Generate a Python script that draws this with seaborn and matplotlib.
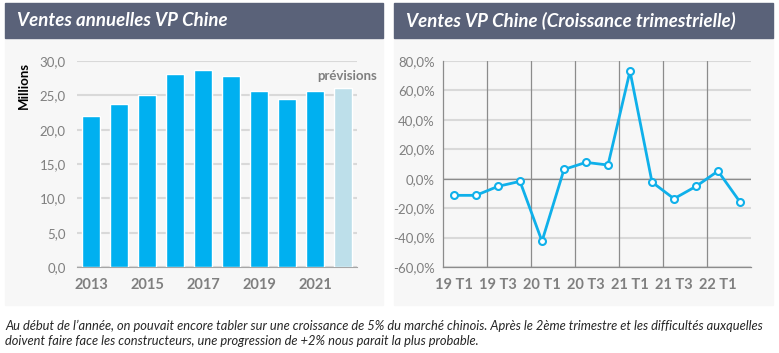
import numpy as np
import pandas as pd
import matplotlib.pyplot as plt
import seaborn as sns
from matplotlib.patches import Rectangle
from matplotlib.ticker import FuncFormatter

sns.set_style("white")
plt.rcParams['font.family'] = ['Lato', 'DejaVu Sans']

# données
years = ["2013", "2014", "2015", "2016", "2017", "2018", "2019", "2020", "2021", "2022"]
sales = [22.0, 23.7, 25.0, 28.1, 28.7, 27.8, 25.6, 24.4, 25.6, 26.0]
bar_colors = ["#00b0f0"] * 9 + ["#bddfea"]

quarters = ["19 T1", "19 T2", "19 T3", "19 T4", "20 T1", "20 T2", "20 T3", "20 T4",
            "21 T1", "21 T2", "21 T3", "21 T4", "22 T1", "22 T2"]
growth = [-11.3, -11.3, -5.2, -1.8, -42.5, 6.3, 11.1, 9.3, 73.1, -2.3, -13.6, -5.2, 5.2, -15.8]

W, H = 779, 353
fig = plt.figure(figsize=(W / 100, H / 100), dpi=100)
fig.patch.set_facecolor("white")

def box(x, y, w, h, color):
    # rectangle en pixels (origine en haut a gauche)
    fig.add_artist(Rectangle((x / W, 1 - (y + h) / H), w / W, h / H,
                             transform=fig.transFigure, color=color, zorder=0))

def axes_px(x0, y0, x1, y1):
    return fig.add_axes([x0 / W, 1 - y1 / H, (x1 - x0) / W, (y1 - y0) / H])

grey_txt = "#7f7f7f"
title_bg = "#5a6279"
panel_bg = "#f7f7f7"

# panneaux
for x0, x1, title in [(5, 383, "Ventes annuelles VP Chine"),
                      (394, 773, "Ventes VP Chine (Croissance trimestrielle)")]:
    box(x0, 38, x1 - x0, 267, panel_bg)
    box(x0, 3, x1 - x0, 35, title_bg)
    fig.text((x0 + 12) / W, 1 - 21 / H, title, color="white", fontsize=13.4,
             fontweight="bold", fontstyle="italic", va="center", ha="left")

# graphique 1 : ventes annuelles
ax1 = axes_px(77, 61, 357, 267)
df1 = pd.DataFrame({"year": years, "sales": sales})
sns.barplot(data=df1, x="year", y="sales", hue="year", palette=bar_colors,
            legend=False, width=0.62, saturation=1, ax=ax1, zorder=3)
ax1.set_facecolor(panel_bg)
ax1.set_ylim(0, 30)
ax1.set_xlim(-0.5, len(years) - 0.5)
ax1.set_yticks(np.arange(0, 31, 5))
ax1.yaxis.set_major_formatter(FuncFormatter(lambda v, p: f"{v:.1f}".replace(".", ",")))
ax1.set_xticks(range(len(years)))
ax1.set_xticklabels([y if i % 2 == 0 else "" for i, y in enumerate(years)],
                    fontweight="bold", color=grey_txt, fontsize=10.5)
ax1.tick_params(axis="y", colors=grey_txt, labelsize=9.5, length=0, pad=8)
ax1.tick_params(axis="x", length=0, pad=8)
ax1.grid(axis="y", color="#d9d9d9", linewidth=1.5, zorder=0)
ax1.set_axisbelow(True)
for s in ["top", "right", "left"]:
    ax1.spines[s].set_visible(False)
ax1.spines["bottom"].set_color("#a6a6a6")
ax1.set_xlabel("")
ax1.set_ylabel("Millions", fontweight="bold", color="black", fontsize=9.5)
ax1.yaxis.set_label_coords(-0.168, 0.88)
ax1.text(len(years) - 0.87, 27.0, "prévisions", ha="center", va="bottom",
         color=grey_txt, fontweight="bold", fontsize=9.5, clip_on=False)

# graphique 2 : croissance trimestrielle
ax2 = axes_px(443, 61, 751, 267)
df2 = pd.DataFrame({"q": range(len(quarters)), "g": growth})
sns.lineplot(data=df2, x="q", y="g", ax=ax2, color="#0fb0ea", linewidth=2,
             marker="o", markersize=5, markerfacecolor="white",
             markeredgecolor="#0fb0ea", markeredgewidth=1.5, zorder=3)
ax2.set_facecolor(panel_bg)
ax2.set_ylim(-60, 80)
ax2.set_xlim(-0.5, len(quarters) - 0.5)
ax2.set_yticks(np.arange(-60, 81, 20))
ax2.yaxis.set_major_formatter(FuncFormatter(lambda v, p: f"{v:.1f}%".replace(".", ",")))
ax2.set_xticks(range(0, len(quarters), 2))
ax2.set_xticklabels(quarters[::2], fontweight="bold", color=grey_txt, fontsize=10.5)
ax2.tick_params(axis="y", colors=grey_txt, labelsize=9.5, length=0, pad=6)
ax2.tick_params(axis="x", length=0, pad=8)
ax2.grid(axis="y", color="#d9d9d9", linewidth=1.5, zorder=0)
for b in np.arange(1.5, len(quarters) - 1, 2):
    ax2.axvline(b, color="#8c8c8c", linewidth=0.9, zorder=1)
ax2.axhline(0, color="#8c8c8c", linewidth=0.9, zorder=1)
for s in ["top", "right"]:
    ax2.spines[s].set_visible(False)
for s in ["left", "bottom"]:
    ax2.spines[s].set_color("#8c8c8c")
    ax2.spines[s].set_linewidth(0.9)
ax2.set_xlabel("")
ax2.set_ylabel("")

# commentaire (taille ajustée pour tenir sur la largeur)
line1 = fig.text(5 / W, 1 - 326 / H,
                 "Au début de l\u2019année, on pouvait encore tabler sur une croissance de 5% du marché chinois. "
                 "Après le 2ème trimestre et les difficultés auxquelles",
                 fontsize=9, fontstyle="italic", va="center", ha="left")
line2 = fig.text(5 / W, 1 - 341 / H,
                 "doivent faire face les constructeurs, une progression de +2% nous parait la plus probable.",
                 fontsize=9, fontstyle="italic", va="center", ha="left")
fig.canvas.draw()
w1 = line1.get_window_extent().width
size = 9 * 758 / w1
line1.set_fontsize(size)
line2.set_fontsize(size)

fig.savefig("out.png", dpi=100, facecolor=fig.get_facecolor())
